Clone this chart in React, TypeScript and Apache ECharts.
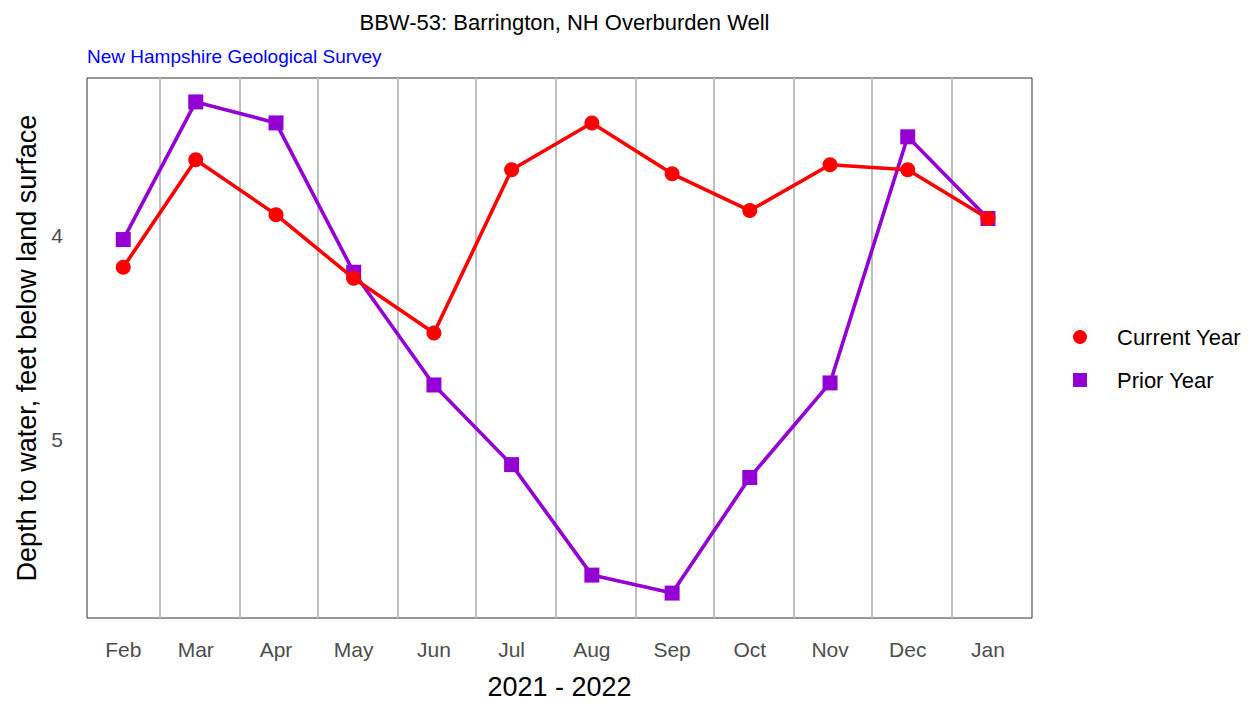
import React, { useEffect, useRef } from "react";
import * as echarts from "echarts";

const monthLabels = ["Feb", "Mar", "Apr", "May", "Jun", "Jul", "Aug", "Sep", "Oct", "Nov", "Dec", "Jan"];
const pointDates = [
  "2021-02-15", "2021-03-15", "2021-04-15", "2021-05-15", "2021-06-15", "2021-07-15",
  "2021-08-15", "2021-09-15", "2021-10-15", "2021-11-15", "2021-12-15", "2022-01-15",
];
const gridDates = [
  "2021-03-01", "2021-04-01", "2021-05-01", "2021-06-01", "2021-07-01", "2021-08-01",
  "2021-09-01", "2021-10-01", "2021-11-01", "2021-12-01", "2022-01-01",
];
const currentYear = [4.156, 3.629, 3.898, 4.21, 4.478, 3.678, 3.449, 3.698, 3.878, 3.654, 3.678, 3.917];
const priorYear = [4.02, 3.346, 3.449, 4.18, 4.732, 5.122, 5.663, 5.751, 5.185, 4.722, 3.517, 3.917];
const yTicks = [4, 5];

const xMin = Date.parse("2021-02-01");
const xMax = Date.parse("2022-02-01");
const ts = pointDates.map((d) => Date.parse(d));
const gridTs = gridDates.map((d) => Date.parse(d));

export default function App() {
  const ref = useRef<HTMLDivElement>(null);
  useEffect(() => {
    const chart = echarts.init(ref.current!, null, { renderer: "svg" });
    const font = "Liberation Sans, Arial, sans-serif";
    chart.setOption({
      animation: false,
      backgroundColor: "#ffffff",
      textStyle: { fontFamily: font },
      title: [
        {
          text: "BBW-53: Barrington, NH Overburden Well",
          left: 559.5,
          textAlign: "center",
          top: 6,
          textStyle: { fontFamily: font, fontSize: 22, fontWeight: "normal", color: "#000000" },
        },
        {
          text: "New Hampshire Geological Survey",
          left: 82,
          top: 42,
          textStyle: { fontFamily: font, fontSize: 19, fontWeight: "normal", color: "#0000ff" },
        },
      ],
      grid: {
        left: 87,
        right: 220,
        top: 78,
        bottom: 85,
        show: true,
        borderColor: "#333333",
        borderWidth: 1,
        backgroundColor: "transparent",
      },
      legend: {
        orient: "vertical",
        left: 1073,
        top: 326,
        padding: 0,
        itemWidth: 14,
        itemHeight: 14,
        itemGap: 21,
        textStyle: { fontFamily: font, fontSize: 22, color: "#000000", padding: [0, 0, 0, 25] },
        data: [
          { name: "Current Year", icon: "circle" },
          { name: "Prior Year", icon: "rect" },
        ],
      },
      xAxis: {
        type: "value",
        min: xMin,
        max: xMax,
        name: "2021 - 2022",
        nameLocation: "middle",
        nameGap: 55,
        nameTextStyle: { fontFamily: font, fontSize: 27, color: "#000000" },
        axisLine: { show: false },
        axisTick: { show: false, customValues: gridTs },
        splitLine: { show: true, lineStyle: { color: "#bebebe", width: 2 } },
        axisLabel: {
          customValues: ts,
          margin: 21,
          fontFamily: font,
          fontSize: 21,
          color: "#4d4d4d",
          formatter: (v: number) => {
            const i = ts.indexOf(v);
            return i >= 0 ? monthLabels[i] : "";
          },
        },
      },
      yAxis: {
        type: "value",
        inverse: true,
        min: 3.229,
        max: 5.873,
        name: "Depth to water, feet below land surface",
        nameLocation: "middle",
        nameGap: 46,
        nameTextStyle: { fontFamily: font, fontSize: 27, color: "#000000" },
        axisLine: { show: false },
        axisTick: { show: false },
        splitLine: { show: false },
        axisLabel: {
          customValues: yTicks,
          margin: 24,
          fontFamily: font,
          fontSize: 21,
          color: "#4d4d4d",
        },
      },
      series: [
        {
          name: "Prior Year",
          type: "line",
          data: ts.map((t, i) => [t, priorYear[i]]),
          symbol: "rect",
          symbolSize: 15,
          color: "#9400d3",
          lineStyle: { width: 3.6, color: "#9400d3" },
          itemStyle: { color: "#9400d3" },
          z: 2,
        },
        {
          name: "Current Year",
          type: "line",
          data: ts.map((t, i) => [t, currentYear[i]]),
          symbol: "circle",
          symbolSize: 15,
          color: "#ff0000",
          lineStyle: { width: 3.6, color: "#ff0000" },
          itemStyle: { color: "#ff0000" },
          z: 3,
        },
      ],
    });
    return () => chart.dispose();
  }, []);
  return (
    <div
      ref={ref}
      style={{ position: "fixed", left: 0, top: 0, width: 1252, height: 705 }}
    />
  );
}
